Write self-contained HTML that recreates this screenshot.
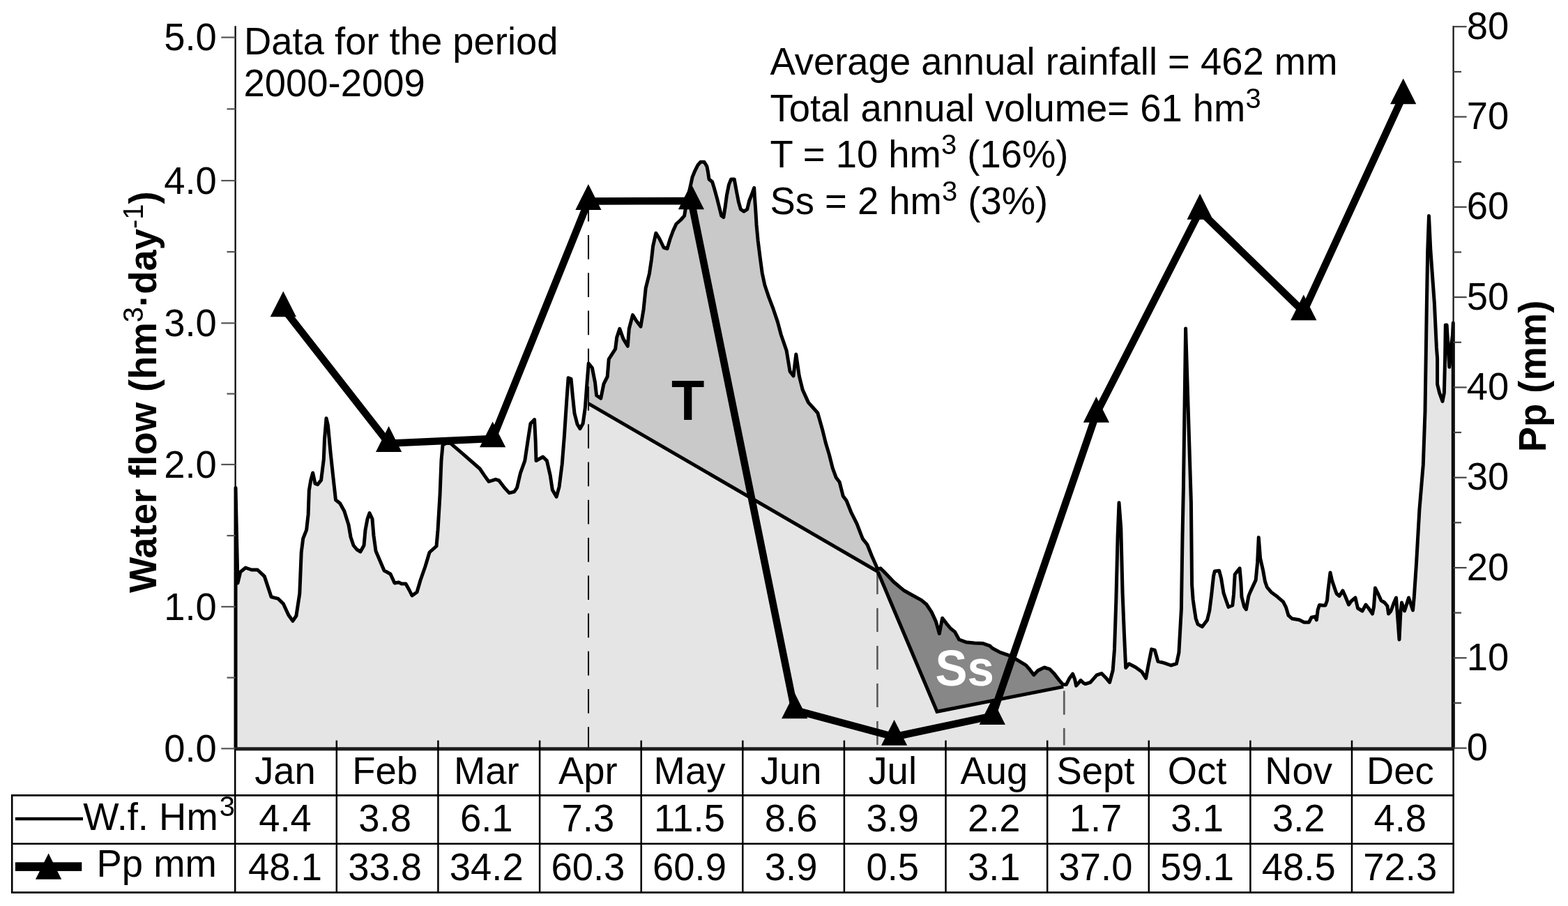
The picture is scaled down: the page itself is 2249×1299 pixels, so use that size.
<!DOCTYPE html>
<html><head><meta charset="utf-8"><title>Water flow and precipitation</title>
<style>html,body{margin:0;padding:0;background:#fff;}svg{display:block;}</style></head>
<body><svg width="2249" height="1299" viewBox="0 0 2249 1299" font-family='"Liberation Sans", Arial, sans-serif'>
<rect x="0" y="0" width="2249" height="1299" fill="#fff"/>
<polygon points="338.0,1073.7 338.0,699.5 339.5,770.0 341.0,836.0 344.8,820.2 352.2,814.0 360.8,817.0 369.4,817.0 379.3,826.4 389.1,855.9 399.0,858.4 406.4,865.8 413.8,881.8 419.9,890.4 424.9,883.0 429.8,851.0 432.2,791.9 434.7,772.2 439.6,759.8 442.1,737.7 443.3,703.2 445.8,688.4 448.7,678.0 452.0,693.3 455.6,694.6 460.6,688.4 464.3,658.8 465.5,629.3 468.0,599.7 470.4,609.6 474.1,649.0 477.8,683.5 481.5,716.7 487.7,721.7 493.8,732.7 500.0,752.5 503.0,770.0 507.0,782.0 512.0,788.0 517.0,791.0 522.0,782.0 524.0,760.0 527.0,744.0 530.0,735.6 534.0,744.0 536.0,768.0 539.0,790.0 545.0,804.0 551.0,818.0 560.0,823.0 566.0,836.0 572.0,835.0 576.0,837.0 582.0,837.0 587.0,846.0 591.0,854.0 598.0,849.0 603.0,832.0 610.0,812.0 616.0,792.0 626.0,783.0 628.0,760.0 631.0,710.0 633.0,660.0 635.0,638.0 639.7,635.6 646.2,635.6 662.3,649.3 688.2,672.0 694.7,681.6 701.1,690.5 710.8,687.3 715.7,688.9 723.7,699.4 730.2,706.7 737.5,705.1 741.5,699.4 746.4,678.4 752.8,660.6 756.9,633.1 760.9,607.3 766.6,601.6 768.2,633.1 769.0,660.6 778.7,655.0 784.4,660.6 789.2,681.6 792.4,702.6 798.1,712.3 802.1,697.8 806.2,665.5 809.4,625.1 812.6,576.6 815.1,541.8 819.1,543.4 821.5,568.5 824.0,592.7 828.0,608.1 832.0,614.6 836.1,607.3 839.3,584.7 841.7,552.3 844.2,521.0 849.4,527.5 853.5,548.3 855.6,567.0 861.8,571.1 866.0,550.3 871.2,540.0 873.2,515.0 882.6,500.4 884.7,483.8 888.8,471.3 894.0,485.9 900.3,496.3 902.3,471.3 907.5,451.6 912.7,459.9 919.0,468.2 923.1,443.3 926.2,413.1 931.4,392.4 934.5,371.6 936.6,352.9 940.8,334.2 946.0,342.5 952.0,355.0 957.0,356.5 961.0,343.0 965.4,331.0 970.0,321.0 976.2,315.5 981.6,309.3 983.1,300.1 988.0,277.0 993.1,253.9 996.2,246.2 1000.8,236.9 1004.7,232.3 1010.1,232.3 1013.9,238.5 1015.4,246.2 1017.0,257.0 1021.6,260.8 1024.7,270.8 1028.5,284.7 1031.6,297.0 1034.7,309.3 1037.8,311.6 1040.1,297.0 1042.4,280.0 1045.5,264.6 1048.6,257.0 1053.2,257.0 1056.3,273.9 1059.3,289.3 1062.4,300.1 1067.0,303.1 1071.7,300.1 1074.7,287.7 1077.8,280.0 1081.7,269.3 1082.4,281.6 1084.0,304.7 1085.0,322.0 1087.1,344.6 1090.2,369.3 1093.2,391.4 1096.9,408.7 1103.1,427.2 1109.2,443.2 1115.4,461.6 1120.3,480.0 1128.1,502.6 1133.0,532.4 1138.0,539.0 1141.8,508.0 1146.3,539.0 1151.2,558.9 1159.5,577.1 1172.8,592.0 1179.4,615.2 1184.3,635.0 1189.3,651.6 1194.3,671.4 1199.2,684.7 1204.2,691.3 1209.2,711.2 1214.1,717.8 1220.7,734.3 1229.0,750.9 1237.3,772.4 1243.9,780.7 1250.5,797.2 1256.2,809.9 1258.6,816.0 1262.9,814.8 1268.5,820.3 1282.0,834.5 1296.8,846.8 1307.9,853.0 1321.4,860.4 1328.8,866.5 1336.2,877.6 1342.4,891.1 1347.3,908.4 1351.6,886.2 1357.2,893.6 1363.3,901.0 1369.5,905.9 1375.6,917.0 1385.5,920.7 1397.8,921.9 1410.1,922.6 1420.0,926.2 1423.1,929.3 1434.6,935.4 1449.3,940.4 1457.7,945.4 1471.6,953.9 1477.0,960.0 1482.8,967.7 1488.5,961.6 1497.8,957.0 1505.5,959.3 1511.6,965.4 1519.3,975.4 1524.7,981.6 1529.3,981.6 1534.0,972.4 1538.6,966.2 1541.6,973.9 1543.6,983.1 1547.0,979.3 1550.1,975.4 1554.0,979.3 1556.9,980.6 1563.9,978.3 1573.1,967.9 1580.0,965.6 1585.8,971.4 1591.6,978.3 1596.2,961.0 1598.5,930.9 1600.8,861.7 1603.1,769.3 1605.0,720.8 1607.8,757.7 1610.1,850.1 1612.4,907.9 1614.7,957.5 1619.3,951.7 1628.5,956.4 1637.8,963.3 1643.6,972.5 1647.0,954.0 1651.6,930.9 1656.3,932.1 1660.9,948.3 1670.1,950.6 1679.4,954.0 1687.4,951.7 1690.9,935.6 1694.4,873.2 1696.0,769.3 1697.4,700.0 1700.6,471.0 1708.4,720.0 1709.6,838.6 1711.2,860.0 1712.9,872.0 1715.2,887.0 1718.1,895.1 1724.4,898.6 1731.4,889.3 1734.8,875.5 1737.7,852.4 1740.6,825.8 1742.3,818.9 1748.7,818.3 1751.6,829.3 1755.0,850.1 1758.5,860.5 1762.0,870.3 1767.8,868.0 1769.5,852.4 1771.2,823.5 1778.1,814.8 1779.9,835.1 1781.0,855.8 1784.5,869.7 1787.4,873.7 1790.9,854.7 1793.2,848.9 1801.2,831.6 1803.6,806.2 1805.3,770.4 1807.6,800.4 1811.6,817.7 1814.5,833.9 1817.4,842.0 1823.2,848.9 1832.4,855.8 1840.5,862.8 1844.6,870.9 1848.0,882.4 1853.2,887.0 1863.6,888.8 1870.5,892.2 1877.5,892.2 1880.9,885.3 1886.1,884.1 1888.4,888.8 1890.2,874.3 1892.5,867.4 1897.1,868.0 1901.0,868.0 1903.5,861.0 1905.0,845.0 1908.0,821.0 1910.5,832.0 1914.5,844.0 1917.0,851.0 1921.0,854.5 1926.0,847.0 1930.0,856.0 1934.5,867.0 1938.0,862.0 1944.0,857.0 1947.5,872.0 1954.0,876.0 1959.0,867.0 1963.0,872.0 1968.5,880.0 1970.5,870.0 1972.5,843.0 1976.0,850.0 1981.0,861.0 1986.0,864.0 1990.0,869.0 1991.5,880.0 1995.0,876.0 1999.0,865.0 2002.5,857.0 2004.0,876.0 2007.0,917.0 2009.0,876.0 2010.5,864.0 2014.5,876.0 2020.5,857.0 2026.5,875.0 2028.3,855.9 2031.6,806.3 2035.9,730.9 2041.3,666.2 2044.0,590.0 2046.3,440.0 2047.7,359.3 2049.5,309.6 2051.9,359.3 2057.4,435.0 2060.4,497.9 2061.6,513.9 2061.6,550.9 2064.6,563.2 2069.0,575.5 2071.4,563.2 2072.6,513.9 2073.3,465.9 2075.1,465.9 2077.0,495.4 2078.8,526.2 2080.7,501.6 2083.5,480.0 2084.3,463.0 2084.3,1073.7" fill="#e5e5e5" stroke="none"/>
<polygon points="844.0,578.7 844.2,521.0 849.4,527.5 853.5,548.3 855.6,567.0 861.8,571.1 866.0,550.3 871.2,540.0 873.2,515.0 882.6,500.4 884.7,483.8 888.8,471.3 894.0,485.9 900.3,496.3 902.3,471.3 907.5,451.6 912.7,459.9 919.0,468.2 923.1,443.3 926.2,413.1 931.4,392.4 934.5,371.6 936.6,352.9 940.8,334.2 946.0,342.5 952.0,355.0 957.0,356.5 961.0,343.0 965.4,331.0 970.0,321.0 976.2,315.5 981.6,309.3 983.1,300.1 988.0,277.0 993.1,253.9 996.2,246.2 1000.8,236.9 1004.7,232.3 1010.1,232.3 1013.9,238.5 1015.4,246.2 1017.0,257.0 1021.6,260.8 1024.7,270.8 1028.5,284.7 1031.6,297.0 1034.7,309.3 1037.8,311.6 1040.1,297.0 1042.4,280.0 1045.5,264.6 1048.6,257.0 1053.2,257.0 1056.3,273.9 1059.3,289.3 1062.4,300.1 1067.0,303.1 1071.7,300.1 1074.7,287.7 1077.8,280.0 1081.7,269.3 1082.4,281.6 1084.0,304.7 1085.0,322.0 1087.1,344.6 1090.2,369.3 1093.2,391.4 1096.9,408.7 1103.1,427.2 1109.2,443.2 1115.4,461.6 1120.3,480.0 1128.1,502.6 1133.0,532.4 1138.0,539.0 1141.8,508.0 1146.3,539.0 1151.2,558.9 1159.5,577.1 1172.8,592.0 1179.4,615.2 1184.3,635.0 1189.3,651.6 1194.3,671.4 1199.2,684.7 1204.2,691.3 1209.2,711.2 1214.1,717.8 1220.7,734.3 1229.0,750.9 1237.3,772.4 1243.9,780.7 1250.5,797.2 1256.2,809.9 1258.6,816.0 1259.0,819.5" fill="#c9c9c9" stroke="none"/>
<polygon points="1259.0,819.5 1262.9,814.8 1268.5,820.3 1282.0,834.5 1296.8,846.8 1307.9,853.0 1321.4,860.4 1328.8,866.5 1336.2,877.6 1342.4,891.1 1347.3,908.4 1351.6,886.2 1357.2,893.6 1363.3,901.0 1369.5,905.9 1375.6,917.0 1385.5,920.7 1397.8,921.9 1410.1,922.6 1420.0,926.2 1423.1,929.3 1434.6,935.4 1449.3,940.4 1457.7,945.4 1471.6,953.9 1477.0,960.0 1482.8,967.7 1488.5,961.6 1497.8,957.0 1505.5,959.3 1511.6,965.4 1519.3,975.4 1524.7,981.6 1525.3,984.6 1344.0,1020.3" fill="#878787" stroke="none"/>
<line x1="844.0" y1="282.8" x2="844.0" y2="1073.7" stroke="#151515" stroke-width="2.1" stroke-dasharray="34.65 19.6"/>
<line x1="1258.4" y1="817.9" x2="1258.4" y2="1068.1" stroke="#5a5a5a" stroke-width="2.6" stroke-dasharray="34 20"/>
<line x1="1526.3" y1="990.5" x2="1526.3" y2="1068.5" stroke="#606060" stroke-width="2.8" stroke-dasharray="34.2 19.4"/>
<polyline points="844.0,578.7 1259.0,819.5" fill="none" stroke="#000" stroke-width="5.0"/>
<polyline points="1259.0,819.5 1344.0,1020.3 1525.3,984.6" fill="none" stroke="#000" stroke-width="5.0" stroke-linejoin="miter"/>
<polyline points="338.0,1073.7 338.0,699.5 339.5,770.0 341.0,836.0 344.8,820.2 352.2,814.0 360.8,817.0 369.4,817.0 379.3,826.4 389.1,855.9 399.0,858.4 406.4,865.8 413.8,881.8 419.9,890.4 424.9,883.0 429.8,851.0 432.2,791.9 434.7,772.2 439.6,759.8 442.1,737.7 443.3,703.2 445.8,688.4 448.7,678.0 452.0,693.3 455.6,694.6 460.6,688.4 464.3,658.8 465.5,629.3 468.0,599.7 470.4,609.6 474.1,649.0 477.8,683.5 481.5,716.7 487.7,721.7 493.8,732.7 500.0,752.5 503.0,770.0 507.0,782.0 512.0,788.0 517.0,791.0 522.0,782.0 524.0,760.0 527.0,744.0 530.0,735.6 534.0,744.0 536.0,768.0 539.0,790.0 545.0,804.0 551.0,818.0 560.0,823.0 566.0,836.0 572.0,835.0 576.0,837.0 582.0,837.0 587.0,846.0 591.0,854.0 598.0,849.0 603.0,832.0 610.0,812.0 616.0,792.0 626.0,783.0 628.0,760.0 631.0,710.0 633.0,660.0 635.0,638.0 639.7,635.6 646.2,635.6 662.3,649.3 688.2,672.0 694.7,681.6 701.1,690.5 710.8,687.3 715.7,688.9 723.7,699.4 730.2,706.7 737.5,705.1 741.5,699.4 746.4,678.4 752.8,660.6 756.9,633.1 760.9,607.3 766.6,601.6 768.2,633.1 769.0,660.6 778.7,655.0 784.4,660.6 789.2,681.6 792.4,702.6 798.1,712.3 802.1,697.8 806.2,665.5 809.4,625.1 812.6,576.6 815.1,541.8 819.1,543.4 821.5,568.5 824.0,592.7 828.0,608.1 832.0,614.6 836.1,607.3 839.3,584.7 841.7,552.3 844.2,521.0 849.4,527.5 853.5,548.3 855.6,567.0 861.8,571.1 866.0,550.3 871.2,540.0 873.2,515.0 882.6,500.4 884.7,483.8 888.8,471.3 894.0,485.9 900.3,496.3 902.3,471.3 907.5,451.6 912.7,459.9 919.0,468.2 923.1,443.3 926.2,413.1 931.4,392.4 934.5,371.6 936.6,352.9 940.8,334.2 946.0,342.5 952.0,355.0 957.0,356.5 961.0,343.0 965.4,331.0 970.0,321.0 976.2,315.5 981.6,309.3 983.1,300.1 988.0,277.0 993.1,253.9 996.2,246.2 1000.8,236.9 1004.7,232.3 1010.1,232.3 1013.9,238.5 1015.4,246.2 1017.0,257.0 1021.6,260.8 1024.7,270.8 1028.5,284.7 1031.6,297.0 1034.7,309.3 1037.8,311.6 1040.1,297.0 1042.4,280.0 1045.5,264.6 1048.6,257.0 1053.2,257.0 1056.3,273.9 1059.3,289.3 1062.4,300.1 1067.0,303.1 1071.7,300.1 1074.7,287.7 1077.8,280.0 1081.7,269.3 1082.4,281.6 1084.0,304.7 1085.0,322.0 1087.1,344.6 1090.2,369.3 1093.2,391.4 1096.9,408.7 1103.1,427.2 1109.2,443.2 1115.4,461.6 1120.3,480.0 1128.1,502.6 1133.0,532.4 1138.0,539.0 1141.8,508.0 1146.3,539.0 1151.2,558.9 1159.5,577.1 1172.8,592.0 1179.4,615.2 1184.3,635.0 1189.3,651.6 1194.3,671.4 1199.2,684.7 1204.2,691.3 1209.2,711.2 1214.1,717.8 1220.7,734.3 1229.0,750.9 1237.3,772.4 1243.9,780.7 1250.5,797.2 1256.2,809.9 1258.6,816.0 1262.9,814.8 1268.5,820.3 1282.0,834.5 1296.8,846.8 1307.9,853.0 1321.4,860.4 1328.8,866.5 1336.2,877.6 1342.4,891.1 1347.3,908.4 1351.6,886.2 1357.2,893.6 1363.3,901.0 1369.5,905.9 1375.6,917.0 1385.5,920.7 1397.8,921.9 1410.1,922.6 1420.0,926.2 1423.1,929.3 1434.6,935.4 1449.3,940.4 1457.7,945.4 1471.6,953.9 1477.0,960.0 1482.8,967.7 1488.5,961.6 1497.8,957.0 1505.5,959.3 1511.6,965.4 1519.3,975.4 1524.7,981.6 1529.3,981.6 1534.0,972.4 1538.6,966.2 1541.6,973.9 1543.6,983.1 1547.0,979.3 1550.1,975.4 1554.0,979.3 1556.9,980.6 1563.9,978.3 1573.1,967.9 1580.0,965.6 1585.8,971.4 1591.6,978.3 1596.2,961.0 1598.5,930.9 1600.8,861.7 1603.1,769.3 1605.0,720.8 1607.8,757.7 1610.1,850.1 1612.4,907.9 1614.7,957.5 1619.3,951.7 1628.5,956.4 1637.8,963.3 1643.6,972.5 1647.0,954.0 1651.6,930.9 1656.3,932.1 1660.9,948.3 1670.1,950.6 1679.4,954.0 1687.4,951.7 1690.9,935.6 1694.4,873.2 1696.0,769.3 1697.4,700.0 1700.6,471.0 1708.4,720.0 1709.6,838.6 1711.2,860.0 1712.9,872.0 1715.2,887.0 1718.1,895.1 1724.4,898.6 1731.4,889.3 1734.8,875.5 1737.7,852.4 1740.6,825.8 1742.3,818.9 1748.7,818.3 1751.6,829.3 1755.0,850.1 1758.5,860.5 1762.0,870.3 1767.8,868.0 1769.5,852.4 1771.2,823.5 1778.1,814.8 1779.9,835.1 1781.0,855.8 1784.5,869.7 1787.4,873.7 1790.9,854.7 1793.2,848.9 1801.2,831.6 1803.6,806.2 1805.3,770.4 1807.6,800.4 1811.6,817.7 1814.5,833.9 1817.4,842.0 1823.2,848.9 1832.4,855.8 1840.5,862.8 1844.6,870.9 1848.0,882.4 1853.2,887.0 1863.6,888.8 1870.5,892.2 1877.5,892.2 1880.9,885.3 1886.1,884.1 1888.4,888.8 1890.2,874.3 1892.5,867.4 1897.1,868.0 1901.0,868.0 1903.5,861.0 1905.0,845.0 1908.0,821.0 1910.5,832.0 1914.5,844.0 1917.0,851.0 1921.0,854.5 1926.0,847.0 1930.0,856.0 1934.5,867.0 1938.0,862.0 1944.0,857.0 1947.5,872.0 1954.0,876.0 1959.0,867.0 1963.0,872.0 1968.5,880.0 1970.5,870.0 1972.5,843.0 1976.0,850.0 1981.0,861.0 1986.0,864.0 1990.0,869.0 1991.5,880.0 1995.0,876.0 1999.0,865.0 2002.5,857.0 2004.0,876.0 2007.0,917.0 2009.0,876.0 2010.5,864.0 2014.5,876.0 2020.5,857.0 2026.5,875.0 2028.3,855.9 2031.6,806.3 2035.9,730.9 2041.3,666.2 2044.0,590.0 2046.3,440.0 2047.7,359.3 2049.5,309.6 2051.9,359.3 2057.4,435.0 2060.4,497.9 2061.6,513.9 2061.6,550.9 2064.6,563.2 2069.0,575.5 2071.4,563.2 2072.6,513.9 2073.3,465.9 2075.1,465.9 2077.0,495.4 2078.8,526.2 2080.7,501.6 2083.5,480.0 2084.3,463.0 2084.3,1073.7" fill="none" stroke="#000" stroke-width="5.0" stroke-linejoin="round"/>
<line x1="337.6" y1="37.3" x2="337.6" y2="1073.7" stroke="#000" stroke-width="2.2"/>
<line x1="2084.6" y1="37.0" x2="2084.6" y2="1073.7" stroke="#111" stroke-width="2.2"/>
<line x1="336" y1="1073.7" x2="2086" y2="1073.7" stroke="#1e1e1e" stroke-width="5"/>
<line x1="317.3" y1="1073.3" x2="337.6" y2="1073.3" stroke="#555" stroke-width="2.2"/>
<text transform="translate(310.8,1091.9) scale(1,1.035)" font-size="54.4" text-anchor="end">0.0</text>
<line x1="325.5" y1="971.6" x2="337.6" y2="971.6" stroke="#555" stroke-width="2.2"/>
<line x1="317.3" y1="869.9" x2="337.6" y2="869.9" stroke="#555" stroke-width="2.2"/>
<text transform="translate(310.8,888.5) scale(1,1.035)" font-size="54.4" text-anchor="end">1.0</text>
<line x1="325.5" y1="768.0" x2="337.6" y2="768.0" stroke="#555" stroke-width="2.2"/>
<line x1="317.3" y1="666.0" x2="337.6" y2="666.0" stroke="#555" stroke-width="2.2"/>
<text transform="translate(310.8,684.6) scale(1,1.035)" font-size="54.4" text-anchor="end">2.0</text>
<line x1="325.5" y1="564.6" x2="337.6" y2="564.6" stroke="#555" stroke-width="2.2"/>
<line x1="317.3" y1="463.3" x2="337.6" y2="463.3" stroke="#555" stroke-width="2.2"/>
<text transform="translate(310.8,481.9) scale(1,1.035)" font-size="54.4" text-anchor="end">3.0</text>
<line x1="325.5" y1="361.1" x2="337.6" y2="361.1" stroke="#555" stroke-width="2.2"/>
<line x1="317.3" y1="259.0" x2="337.6" y2="259.0" stroke="#555" stroke-width="2.2"/>
<text transform="translate(310.8,277.6) scale(1,1.035)" font-size="54.4" text-anchor="end">4.0</text>
<line x1="325.5" y1="156.3" x2="337.6" y2="156.3" stroke="#555" stroke-width="2.2"/>
<line x1="317.3" y1="53.6" x2="337.6" y2="53.6" stroke="#555" stroke-width="2.2"/>
<text transform="translate(310.8,72.2) scale(1,1.035)" font-size="54.4" text-anchor="end">5.0</text>
<line x1="2084.6" y1="1072.6" x2="2103.6" y2="1072.6" stroke="#444" stroke-width="2.2"/>
<text transform="translate(2103.8,1090.2) scale(1,1.035)" font-size="54.4">0</text>
<line x1="2084.6" y1="1007.9" x2="2096" y2="1007.9" stroke="#444" stroke-width="2.2"/>
<line x1="2084.6" y1="943.3" x2="2103.6" y2="943.3" stroke="#444" stroke-width="2.2"/>
<text transform="translate(2103.8,960.9) scale(1,1.035)" font-size="54.4">10</text>
<line x1="2084.6" y1="878.6" x2="2096" y2="878.6" stroke="#444" stroke-width="2.2"/>
<line x1="2084.6" y1="814.0" x2="2103.6" y2="814.0" stroke="#444" stroke-width="2.2"/>
<text transform="translate(2103.8,831.6) scale(1,1.035)" font-size="54.4">20</text>
<line x1="2084.6" y1="749.3" x2="2096" y2="749.3" stroke="#444" stroke-width="2.2"/>
<line x1="2084.6" y1="684.7" x2="2103.6" y2="684.7" stroke="#444" stroke-width="2.2"/>
<text transform="translate(2103.8,702.3) scale(1,1.035)" font-size="54.4">30</text>
<line x1="2084.6" y1="620.0" x2="2096" y2="620.0" stroke="#444" stroke-width="2.2"/>
<line x1="2084.6" y1="555.4" x2="2103.6" y2="555.4" stroke="#444" stroke-width="2.2"/>
<text transform="translate(2103.8,573.0) scale(1,1.035)" font-size="54.4">40</text>
<line x1="2084.6" y1="490.8" x2="2096" y2="490.8" stroke="#444" stroke-width="2.2"/>
<line x1="2084.6" y1="426.1" x2="2103.6" y2="426.1" stroke="#444" stroke-width="2.2"/>
<text transform="translate(2103.8,443.7) scale(1,1.035)" font-size="54.4">50</text>
<line x1="2084.6" y1="361.5" x2="2096" y2="361.5" stroke="#444" stroke-width="2.2"/>
<line x1="2084.6" y1="296.8" x2="2103.6" y2="296.8" stroke="#444" stroke-width="2.2"/>
<text transform="translate(2103.8,314.4) scale(1,1.035)" font-size="54.4">60</text>
<line x1="2084.6" y1="232.2" x2="2096" y2="232.2" stroke="#444" stroke-width="2.2"/>
<line x1="2084.6" y1="167.5" x2="2103.6" y2="167.5" stroke="#444" stroke-width="2.2"/>
<text transform="translate(2103.8,185.1) scale(1,1.035)" font-size="54.4">70</text>
<line x1="2084.6" y1="102.9" x2="2096" y2="102.9" stroke="#444" stroke-width="2.2"/>
<line x1="2084.6" y1="38.2" x2="2103.6" y2="38.2" stroke="#444" stroke-width="2.2"/>
<text transform="translate(2103.8,55.8) scale(1,1.035)" font-size="54.4">80</text>
<polyline points="406.3,442.0 557.6,635.7 706.6,629.0 843.9,288.6 991.4,288.0 1139.7,1018.0 1282.6,1056.5 1423.3,1026.6 1572.4,593.4 1721.1,302.4 1869.8,447.0 2012.7,137.0" fill="none" stroke="#000" stroke-width="10.5" stroke-linejoin="miter" stroke-miterlimit="3"/>
<polygon points="406.3,417.4 424.9,454.3 387.7,454.3" fill="#000"/>
<polygon points="557.6,611.1 576.2,648.0 539.0,648.0" fill="#000"/>
<polygon points="706.6,604.4 725.2,641.3 688.0,641.3" fill="#000"/>
<polygon points="843.9,264.0 862.5,300.9 825.3,300.9" fill="#000"/>
<polygon points="991.4,263.4 1010.0,300.3 972.8,300.3" fill="#000"/>
<polygon points="1139.7,993.4 1158.3,1030.3 1121.1,1030.3" fill="#000"/>
<polygon points="1282.6,1031.9 1301.2,1068.8 1264.0,1068.8" fill="#000"/>
<polygon points="1423.3,1002.0 1441.9,1038.9 1404.7,1038.9" fill="#000"/>
<polygon points="1572.4,568.8 1591.0,605.7 1553.8,605.7" fill="#000"/>
<polygon points="1721.1,277.8 1739.7,314.7 1702.5,314.7" fill="#000"/>
<polygon points="1869.8,422.4 1888.4,459.3 1851.2,459.3" fill="#000"/>
<polygon points="2012.7,112.4 2031.3,149.3 1994.1,149.3" fill="#000"/>
<text transform="translate(963.0,601.7) scale(1,1.06)" font-size="77.6" font-weight="bold">T</text>
<text transform="translate(1341.4,982.5) scale(1,1.055)" font-size="69" font-weight="bold" fill="#fff">Ss</text>
<text transform="translate(350.0,78.0) scale(1,1.035)" font-size="54.4">Data for the period</text>
<text transform="translate(349.5,137.8) scale(1,1.035)" font-size="54.4">2000-2009</text>
<text transform="translate(1104.5,107.0) scale(1,1.035)" font-size="54.4">Average annual rainfall = 462 mm</text>
<text transform="translate(1104.5,174.0) scale(1,1.035)" font-size="54.4">Total annual volume= 61 hm<tspan dy="-18.5" font-size="40">3</tspan></text>
<text transform="translate(1104.5,240.4) scale(1,1.035)" font-size="54.4">T = 10 hm<tspan dy="-18.5" font-size="40">3</tspan><tspan dy="18.5"> (16%)</tspan></text>
<text transform="translate(1104.5,307.0) scale(1,1.035)" font-size="54.4">Ss = 2 hm<tspan dy="-18.5" font-size="40">3</tspan><tspan dy="18.5"> (3%)</tspan></text>
<text transform="translate(224,850) rotate(-90) scale(1,1.035)" font-size="54.4" font-weight="bold">Water flow (hm<tspan dy="-18.5" font-size="40" font-weight="normal">3</tspan><tspan dy="18.5">·day</tspan><tspan dy="-18.5" font-size="40" font-weight="normal">-1</tspan><tspan dy="18.5">)</tspan></text>
<text transform="translate(2217.2,648.3) rotate(-90) scale(1,1.035)" font-size="54.4" font-weight="bold">Pp (mm)</text>
<line x1="337.2" y1="1073.7" x2="337.2" y2="1280.8" stroke="#000" stroke-width="2.5"/>
<line x1="482.8" y1="1061.6" x2="482.8" y2="1280.8" stroke="#000" stroke-width="2.5"/>
<line x1="628.4" y1="1061.6" x2="628.4" y2="1280.8" stroke="#000" stroke-width="2.5"/>
<line x1="774.1" y1="1061.6" x2="774.1" y2="1280.8" stroke="#000" stroke-width="2.5"/>
<line x1="919.7" y1="1061.6" x2="919.7" y2="1280.8" stroke="#000" stroke-width="2.5"/>
<line x1="1065.3" y1="1061.6" x2="1065.3" y2="1280.8" stroke="#000" stroke-width="2.5"/>
<line x1="1210.9" y1="1061.6" x2="1210.9" y2="1280.8" stroke="#000" stroke-width="2.5"/>
<line x1="1356.5" y1="1061.6" x2="1356.5" y2="1280.8" stroke="#000" stroke-width="2.5"/>
<line x1="1502.2" y1="1061.6" x2="1502.2" y2="1280.8" stroke="#000" stroke-width="2.5"/>
<line x1="1647.8" y1="1061.6" x2="1647.8" y2="1280.8" stroke="#000" stroke-width="2.5"/>
<line x1="1793.4" y1="1061.6" x2="1793.4" y2="1280.8" stroke="#000" stroke-width="2.5"/>
<line x1="1939.0" y1="1061.6" x2="1939.0" y2="1280.8" stroke="#000" stroke-width="2.5"/>
<line x1="2084.6" y1="1073.7" x2="2084.6" y2="1280.8" stroke="#000" stroke-width="2.5"/>
<line x1="16" y1="1140.4" x2="2085.8" y2="1140.4" stroke="#000" stroke-width="2.6"/>
<line x1="16" y1="1209.8" x2="2085.8" y2="1209.8" stroke="#000" stroke-width="2.6"/>
<line x1="16" y1="1279.6" x2="2085.8" y2="1279.6" stroke="#000" stroke-width="2.6"/>
<line x1="17.2" y1="1139.1" x2="17.2" y2="1280.9" stroke="#000" stroke-width="2.6"/>
<text transform="translate(409.0,1123.6) scale(1,1.035)" font-size="54.4" text-anchor="middle">Jan</text>
<text transform="translate(409.0,1192.0) scale(1,1.035)" font-size="54.4" text-anchor="middle">4.4</text>
<text transform="translate(409.0,1261.9) scale(1,1.035)" font-size="54.4" text-anchor="middle">48.1</text>
<text transform="translate(552.1,1123.6) scale(1,1.035)" font-size="54.4" text-anchor="middle">Feb</text>
<text transform="translate(552.1,1192.0) scale(1,1.035)" font-size="54.4" text-anchor="middle">3.8</text>
<text transform="translate(552.1,1261.9) scale(1,1.035)" font-size="54.4" text-anchor="middle">33.8</text>
<text transform="translate(697.8,1123.6) scale(1,1.035)" font-size="54.4" text-anchor="middle">Mar</text>
<text transform="translate(697.8,1192.0) scale(1,1.035)" font-size="54.4" text-anchor="middle">6.1</text>
<text transform="translate(697.8,1261.9) scale(1,1.035)" font-size="54.4" text-anchor="middle">34.2</text>
<text transform="translate(843.4,1123.6) scale(1,1.035)" font-size="54.4" text-anchor="middle">Apr</text>
<text transform="translate(843.4,1192.0) scale(1,1.035)" font-size="54.4" text-anchor="middle">7.3</text>
<text transform="translate(843.4,1261.9) scale(1,1.035)" font-size="54.4" text-anchor="middle">60.3</text>
<text transform="translate(989.0,1123.6) scale(1,1.035)" font-size="54.4" text-anchor="middle">May</text>
<text transform="translate(989.0,1192.0) scale(1,1.035)" font-size="54.4" text-anchor="middle">11.5</text>
<text transform="translate(989.0,1261.9) scale(1,1.035)" font-size="54.4" text-anchor="middle">60.9</text>
<text transform="translate(1134.6,1123.6) scale(1,1.035)" font-size="54.4" text-anchor="middle">Jun</text>
<text transform="translate(1134.6,1192.0) scale(1,1.035)" font-size="54.4" text-anchor="middle">8.6</text>
<text transform="translate(1134.6,1261.9) scale(1,1.035)" font-size="54.4" text-anchor="middle">3.9</text>
<text transform="translate(1280.2,1123.6) scale(1,1.035)" font-size="54.4" text-anchor="middle">Jul</text>
<text transform="translate(1280.2,1192.0) scale(1,1.035)" font-size="54.4" text-anchor="middle">3.9</text>
<text transform="translate(1280.2,1261.9) scale(1,1.035)" font-size="54.4" text-anchor="middle">0.5</text>
<text transform="translate(1425.8,1123.6) scale(1,1.035)" font-size="54.4" text-anchor="middle">Aug</text>
<text transform="translate(1425.8,1192.0) scale(1,1.035)" font-size="54.4" text-anchor="middle">2.2</text>
<text transform="translate(1425.8,1261.9) scale(1,1.035)" font-size="54.4" text-anchor="middle">3.1</text>
<text transform="translate(1571.5,1123.6) scale(1,1.035)" font-size="54.4" text-anchor="middle">Sept</text>
<text transform="translate(1571.5,1192.0) scale(1,1.035)" font-size="54.4" text-anchor="middle">1.7</text>
<text transform="translate(1571.5,1261.9) scale(1,1.035)" font-size="54.4" text-anchor="middle">37.0</text>
<text transform="translate(1717.1,1123.6) scale(1,1.035)" font-size="54.4" text-anchor="middle">Oct</text>
<text transform="translate(1717.1,1192.0) scale(1,1.035)" font-size="54.4" text-anchor="middle">3.1</text>
<text transform="translate(1717.1,1261.9) scale(1,1.035)" font-size="54.4" text-anchor="middle">59.1</text>
<text transform="translate(1862.7,1123.6) scale(1,1.035)" font-size="54.4" text-anchor="middle">Nov</text>
<text transform="translate(1862.7,1192.0) scale(1,1.035)" font-size="54.4" text-anchor="middle">3.2</text>
<text transform="translate(1862.7,1261.9) scale(1,1.035)" font-size="54.4" text-anchor="middle">48.5</text>
<text transform="translate(2008.3,1123.6) scale(1,1.035)" font-size="54.4" text-anchor="middle">Dec</text>
<text transform="translate(2008.3,1192.0) scale(1,1.035)" font-size="54.4" text-anchor="middle">4.8</text>
<text transform="translate(2008.3,1261.9) scale(1,1.035)" font-size="54.4" text-anchor="middle">72.3</text>
<line x1="21.9" y1="1174" x2="119" y2="1174" stroke="#000" stroke-width="4.6"/>
<text transform="translate(119.3,1190.4) scale(1,1.035)" font-size="54.4">W.f. Hm<tspan dx="2" dy="-20" font-size="40">3</tspan></text>
<rect x="21.9" y="1236.3" width="95.4" height="12.6" fill="#000"/>
<polygon points="69.6,1223.6 88.2,1260.8 51,1260.8" fill="#000"/>
<text transform="translate(138.5,1257.1) scale(1,1.035)" font-size="54.4">Pp mm</text>
</svg></body></html>
